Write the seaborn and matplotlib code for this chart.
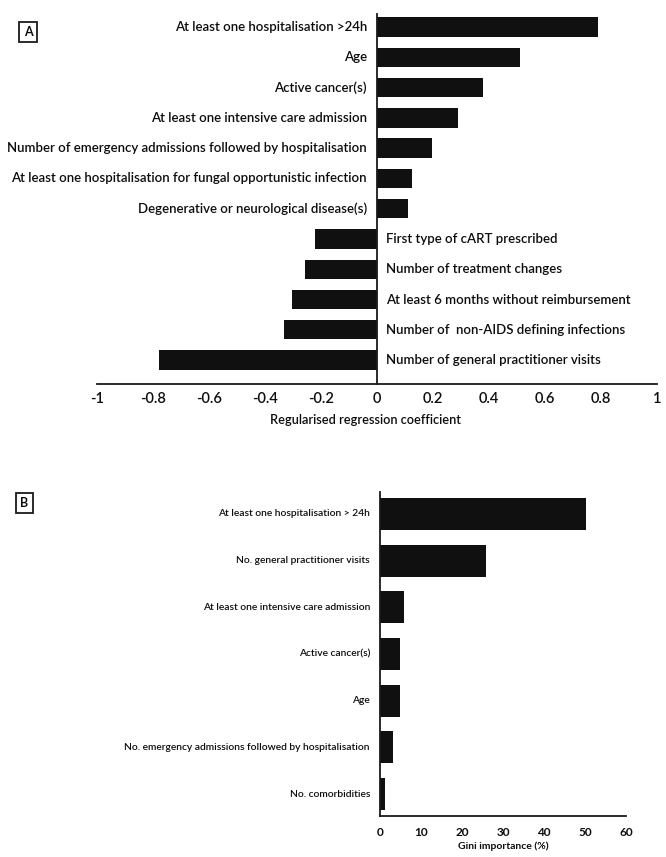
import matplotlib
matplotlib.use("Agg")
import matplotlib.pyplot as plt
import matplotlib.transforms as mtransforms
from matplotlib.ticker import MultipleLocator
import seaborn as sns
import pandas as pd

# ---------------- data ----------------
a_features = [
    "At least one hospitalisation >24h",
    "Age",
    "Active cancer(s)",
    "At least one intensive care admission",
    "Number of emergency admissions followed by hospitalisation",
    "At least one hospitalisation for fungal opportunistic infection",
    "Degenerative or neurological disease(s)",
    "First type of cART prescribed",
    "Number of treatment changes",
    "At least 6 months without reimbursement",
    "Number of  non-AIDS defining infections",
    "Number of general practitioner visits",
]
a_coef = [0.79, 0.51, 0.38, 0.29, 0.198, 0.125, 0.111, -0.22, -0.258, -0.304, -0.331, -0.778]
a_ticks = [-1, -0.8, -0.6, -0.4, -0.2, 0, 0.2, 0.4, 0.6, 0.8, 1]
a_ticklabels = ["-1", "-0.8", "-0.6", "-0.4", "-0.2", "0", "0.2", "0.4", "0.6", "0.8", "1"]

b_features = [
    "At least one hospitalisation > 24h",
    "No. general practitioner visits",
    "At least one intensive care admission",
    "Active cancer(s)",
    "Age",
    "No. emergency admissions followed by hospitalisation",
    "No. comorbidities",
]
b_gini = [50.2, 25.9, 5.9, 4.9, 4.9, 3.1, 1.2]
b_ticks = [0, 10, 20, 30, 40, 50, 60]

# ---------------- style ----------------
sns.set_theme(style="white")
plt.rcParams["font.family"] = ["Lato", "DejaVu Sans"]
BAR = "#101010"
LINE = "#1a1a1a"
TXT = "#0d0d0d"
WGT = "semibold"

W, H = 666, 857
fig = plt.figure(figsize=(W / 100, H / 100), dpi=100)
fig.patch.set_facecolor("white")


def px_axes(l, r, t, b):
    return fig.add_axes([l / W, 1 - b / H, (r - l) / W, (b - t) / H])


def fit(txt, target_px):
    r = fig.canvas.get_renderer()
    w = txt.get_window_extent(renderer=r).width
    txt.set_fontsize(txt.get_fontsize() * target_px / w)


def style_axis(ax):
    for s in ["top", "right"]:
        ax.spines[s].set_visible(False)
    ax.spines["left"].set_position(("data", 0))
    for s in ["left", "bottom"]:
        ax.spines[s].set_color(LINE)
        ax.spines[s].set_linewidth(1.3)
    ax.set_yticks([])
    ax.set_ylabel("")
    ax.set_facecolor("none")


# ---------------- panel A ----------------
axA = px_axes(97, 657, 14, 384)
dfa = pd.DataFrame({"feature": a_features, "coef": a_coef})
sns.barplot(data=dfa, x="coef", y="feature", order=a_features, color=BAR,
            saturation=1, width=0.64, ax=axA, orient="h")
for p in axA.patches:
    p.set_edgecolor("none")
axA.set_xlim(-1, 1)
axA.set_ylim(11.79, -0.43)
style_axis(axA)
axA.set_xticks(a_ticks)
axA.set_xticklabels(a_ticklabels)
axA.tick_params(axis="x", direction="in", length=7, width=1.3, color=LINE,
                pad=6, labelsize=10.5, labelcolor=TXT)
for t in axA.get_xticklabels():
    t.set_fontweight(WGT)
axA.set_xlabel("")

left_tr = mtransforms.offset_copy(axA.transData, fig=fig, x=-10, y=0, units="dots")
right_tr = mtransforms.offset_copy(axA.transData, fig=fig, x=9, y=0, units="dots")
a_texts = []
for i, (lab, v) in enumerate(zip(a_features, a_coef)):
    if v >= 0:
        t = axA.text(0, i, lab, ha="right", va="center", transform=left_tr,
                     fontsize=10, color=TXT, fontweight=WGT)
    else:
        t = axA.text(0, i, lab, ha="left", va="center", transform=right_tr,
                     fontsize=10, color=TXT, fontweight=WGT)
    a_texts.append(t)
fig.canvas.draw()
r = fig.canvas.get_renderer()
ref = a_texts[4]
scale = 359 / ref.get_window_extent(renderer=r).width
for t in a_texts:
    t.set_fontsize(t.get_fontsize() * scale)

xlabA = fig.text(365 / W, 1 - 420 / H, "Regularised regression coefficient",
                 ha="center", va="center", fontsize=10, color=TXT, fontweight=WGT)
fit(xlabA, 191)

# box label A
fig.text(28 / W, 1 - 32 / H, "A", ha="center", va="center", fontsize=9,
         fontweight="bold", color=TXT,
         bbox=dict(boxstyle="square,pad=0.35", facecolor="white",
                   edgecolor=LINE, linewidth=1.3))

# ---------------- panel B ----------------
axB = px_axes(380, 626, 492, 816)
dfb = pd.DataFrame({"feature": b_features, "gini": b_gini})
sns.barplot(data=dfb, x="gini", y="feature", order=b_features, color=BAR,
            saturation=1, width=0.68, ax=axB, orient="h")
for p in axB.patches:
    p.set_edgecolor("none")
axB.set_xlim(0, 60)
axB.set_ylim(6.47, -0.47)
style_axis(axB)
axB.set_xticks(b_ticks)
axB.xaxis.set_minor_locator(MultipleLocator(2))
axB.tick_params(axis="x", which="both", direction="in", length=3.5, width=1.0,
                color=LINE, pad=8, labelsize=8.5, labelcolor=TXT)
for t in axB.get_xticklabels():
    t.set_fontweight("bold")
axB.set_xlabel("")

lb_tr = mtransforms.offset_copy(axB.transData, fig=fig, x=-10, y=0, units="dots")
b_texts = []
for i, lab in enumerate(b_features):
    t = axB.text(0, i, lab, ha="right", va="center", transform=lb_tr,
                 fontsize=8, color=TXT, fontweight=WGT)
    b_texts.append(t)
fig.canvas.draw()
r = fig.canvas.get_renderer()
scaleb = 245 / b_texts[5].get_window_extent(renderer=r).width
for t in b_texts:
    t.set_fontsize(t.get_fontsize() * scaleb)

xlabB = fig.text(503 / W, 1 - 846 / H, "Gini importance (%)", ha="center",
                 va="center", fontsize=8, fontweight="bold", color=TXT)
fit(xlabB, 91)

fig.text(24.5 / W, 1 - 503 / H, "B", ha="center", va="center", fontsize=9,
         fontweight="bold", color=TXT,
         bbox=dict(boxstyle="square,pad=0.35", facecolor="white",
                   edgecolor=LINE, linewidth=1.3))

fig.savefig("out.png", dpi=100, facecolor="white")
